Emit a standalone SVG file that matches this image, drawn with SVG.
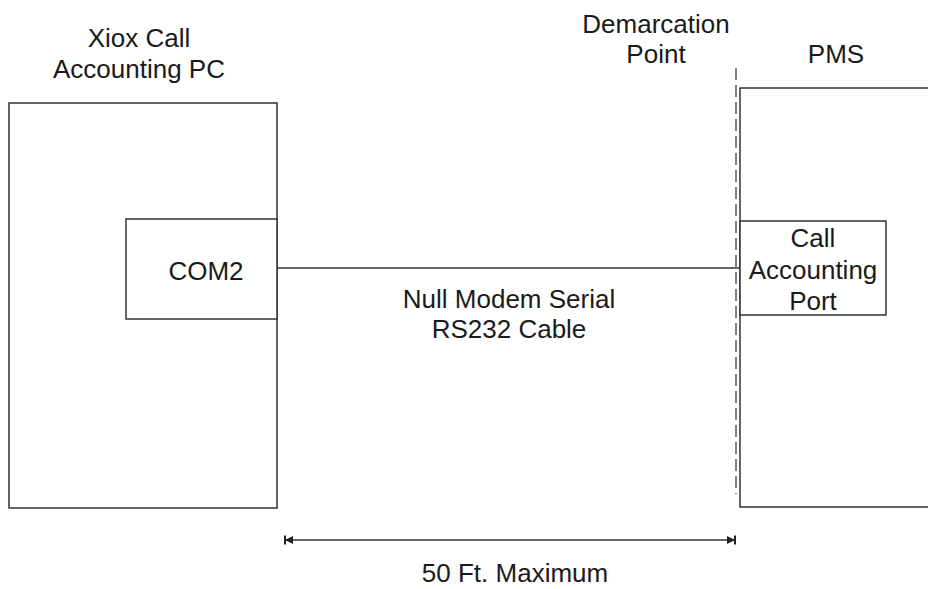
<svg xmlns="http://www.w3.org/2000/svg" width="928" height="589" viewBox="0 0 928 589">
<style>
text{font-family:"Liberation Sans",Arial,sans-serif;font-size:26px;fill:#1a1a1a;text-anchor:middle}
.box{fill:#fff;stroke:#333;stroke-width:1.5}
.ln{stroke:#333;stroke-width:1.5;fill:none}
</style>
<defs>
<marker id="dimL" markerUnits="userSpaceOnUse" markerWidth="12" markerHeight="12" refX="1" refY="6" orient="auto" viewBox="0 0 12 12">
<path d="M1,1.5 V10.5" stroke="#222" stroke-width="2"/>
<path d="M1,6 L9,2 L9,10 Z" fill="#222"/>
</marker>
<marker id="dimR" markerUnits="userSpaceOnUse" markerWidth="12" markerHeight="12" refX="11" refY="6" orient="auto" viewBox="0 0 12 12">
<path d="M11,1.5 V10.5" stroke="#222" stroke-width="2"/>
<path d="M11,6 L3,2 L3,10 Z" fill="#222"/>
</marker>
</defs>
<rect width="928" height="589" fill="#fff"/>
<g id="pc">
<rect class="box" x="9" y="103" width="268" height="405"/>
<text x="139" y="47">Xiox Call</text>
<text x="139" y="78">Accounting PC</text>
</g>
<g id="com2">
<rect class="box" x="126" y="219" width="151" height="100"/>
<text x="206" y="280">COM2</text>
</g>
<g id="demarcation">
<line x1="736" y1="68" x2="736" y2="494" stroke="#555" stroke-width="1.5" stroke-dasharray="12 5"/>
<text x="656" y="33">Demarcation</text>
<text x="656" y="63">Point</text>
</g>
<g id="pms">
<path class="ln" d="M930,88 H740 V507 H930" stroke="#555"/>
<text x="836" y="63">PMS</text>
</g>
<g id="port">
<rect class="box" x="740" y="221" width="146" height="94"/>
<text x="813" y="247">Call</text>
<text x="813" y="279">Accounting</text>
<text x="813" y="310">Port</text>
</g>
<g id="connectors">
<line class="ln" x1="277" y1="268" x2="740" y2="268"/>
<text x="509" y="308">Null Modem Serial</text>
<text x="509" y="338">RS232 Cable</text>
<line class="ln" x1="285" y1="540" x2="735" y2="540" marker-start="url(#dimL)" marker-end="url(#dimR)"/>
<text x="515" y="582">50 Ft. Maximum</text>
</g>
</svg>
